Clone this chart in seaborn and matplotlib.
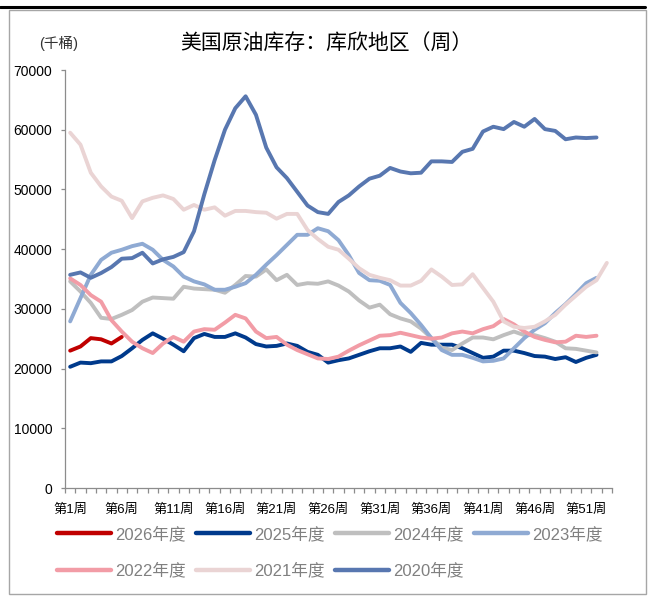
import numpy as np
import pandas as pd
import matplotlib
matplotlib.use("Agg")
import matplotlib.pyplot as plt
import seaborn as sns
from matplotlib.lines import Line2D
from matplotlib.patches import Rectangle

# ---------------- data (thousand barrels -> barrels*1000) ----------------
years = ["2026年度", "2025年度", "2024年度", "2023年度", "2022年度", "2021年度", "2020年度"]
colors = ["#C00000", "#003A8C", "#BFBFBF", "#8FAAD3", "#F29CA6", "#EAD4D4", "#5877B0"]

v2026 = [23000, 23700, 25100, 24900, 24200, 25300]
v2025 = [20300, 21000, 20900, 21200, 21200, 22100, 23400, 24800, 25900, 25000,
         24000, 22900, 25100, 25800, 25300, 25300, 25900, 25200, 24100, 23700,
         23800, 24200, 23800, 22800, 22300, 21000, 21400, 21700, 22300, 22900,
         23400, 23400, 23700, 22800, 24300, 24000, 24000, 24000, 23400, 22600,
         21800, 22000, 23000, 23000, 22600, 22100, 22000, 21600, 21900, 21100,
         21800, 22300]
v2024 = [34600, 32900, 31000, 28500, 28300, 29000, 29800, 31200, 31900, 31800,
         31700, 33700, 33400, 33300, 33200, 32700, 34000, 35500, 35400, 36600,
         34800, 35700, 34000, 34300, 34200, 34600, 33900, 32900, 31400, 30200,
         30700, 29100, 28400, 27900, 26700, 25100, 23500, 23100, 24200, 25200,
         25200, 24900, 25600, 26200, 25600, 25600, 25100, 24500, 23400, 23300,
         23000, 22700]
v2023 = [27900, 31800, 35700, 38200, 39400, 39900, 40500, 40900, 39900, 38200,
         37100, 35400, 34600, 34100, 33200, 33200, 33700, 34300, 35700, 37400,
         39000, 40700, 42400, 42400, 43500, 43000, 41500, 39000, 36000, 34800,
         34700, 34000, 31000, 29300, 27300, 25100, 23100, 22300, 22300, 21800,
         21200, 21300, 21700, 23400, 25100, 26500, 27600, 29300, 30800, 32500,
         34300, 35200]
v2022 = [35100, 34000, 32300, 31200, 28100, 26200, 24500, 23400, 22600, 24200,
         25300, 24500, 26200, 26600, 26500, 27700, 29000, 28400, 26200, 25100,
         25300, 24000, 23100, 22400, 21700, 21600, 22000, 23000, 23900, 24700,
         25500, 25600, 26000, 25600, 25200, 25000, 25200, 25900, 26200, 25900,
         26600, 27100, 28300, 27400, 26200, 25300, 24800, 24400, 24500, 25500,
         25300, 25500]
v2021 = [59500, 57500, 52800, 50500, 48800, 48100, 45200, 48000, 48600, 49000,
         48400, 46600, 47400, 46600, 47000, 45600, 46400, 46400, 46200, 46100,
         45100, 45900, 45900, 43200, 41700, 40400, 39900, 38400, 36800, 35700,
         35200, 34800, 33900, 33900, 34700, 36600, 35400, 34000, 34100, 35800,
         33500, 31200, 27900, 27000, 26800, 27000, 27900, 29000, 30700, 32200,
         33700, 34800, 37700]
v2020 = [35700, 36100, 35200, 36000, 37000, 38400, 38500, 39400, 37600, 38300,
         38700, 39500, 43000, 49200, 54900, 60000, 63600, 65600, 62500, 57000,
         53700, 51900, 49600, 47300, 46200, 45900, 47900, 49000, 50500, 51800,
         52300, 53600, 53000, 52700, 52800, 54700, 54700, 54600, 56300, 56800,
         59700, 60500, 60100, 61300, 60500, 61800, 60100, 59800, 58400, 58700,
         58600, 58700]

series = [v2026, v2025, v2024, v2023, v2022, v2021, v2020]
yticks = [0, 10000, 20000, 30000, 40000, 50000, 60000, 70000]
label_weeks = [1, 6, 11, 16, 21, 26, 31, 36, 41, 46, 51]
xtick_labels = [f"第{w}周" for w in label_weeks]
title = "美国原油库存：库欣地区（周）"
unit = "(千桶)"

rows = []
for name, vals in zip(years, series):
    for i, v in enumerate(vals):
        rows.append({"week": i + 1, "value": v, "year": name})
df = pd.DataFrame(rows)

# ---------------- style ----------------
sns.set_style("white")
plt.rcParams["font.family"] = ["Liberation Sans", "Noto Sans CJK SC", "DejaVu Sans"]
plt.rcParams["axes.unicode_minus"] = False

W, H = 651, 599
fig = plt.figure(figsize=(W / 100, H / 100), dpi=100)
fig.patch.set_facecolor("white")

x0, x1, y_top, y_bot = 65, 612, 70, 488
ax = fig.add_axes([x0 / W, 1 - y_bot / H, (x1 - x0) / W, (y_bot - y_top) / H])

sns.lineplot(data=df, x="week", y="value", hue="year", hue_order=years,
             palette=colors, linewidth=2.8, ax=ax, legend=False)
for ln in ax.lines:
    ln.set_solid_capstyle("round")
    ln.set_solid_joinstyle("round")

ax.set_xlim(0.5, 53.5)
ax.set_ylim(0, 70000)
ax.set_yticks(yticks)
ax.set_yticklabels([str(t) for t in yticks], fontsize=10, color="black")
ax.set_xticks(label_weeks)
ax.set_xticklabels(xtick_labels, fontsize=9.5, color="black")
ax.set_xticks(np.arange(0.5, 54.0, 1.0), minor=True)
ax.set_xlabel("")
ax.set_ylabel("")

spine_c = "#8C8C8C"
for s in ["top", "right"]:
    ax.spines[s].set_visible(False)
for s in ["left", "bottom"]:
    ax.spines[s].set_color(spine_c)
    ax.spines[s].set_linewidth(0.9)

ax.tick_params(axis="y", which="major", left=True, length=3, width=0.9,
               color=spine_c, direction="out", pad=6)
ax.tick_params(axis="x", which="major", bottom=True, length=0, pad=11)
ax.tick_params(axis="x", which="minor", bottom=True, length=3.5, width=0.9,
               color=spine_c, direction="out")
ax.grid(False)

# ---------------- title & unit ----------------
fig.text(326 / W, 1 - 43 / H, title, ha="center", va="center", fontsize=15,
         color="black", family=["Noto Sans CJK SC", "DejaVu Sans"])
fig.text(59 / W, 1 - 43 / H, unit, ha="center", va="center", fontsize=10.5,
         color="#333333")

# ---------------- legend ----------------
handles = ax.lines[:len(years)]
order = [0, 4, 1, 5, 2, 6, 3]
leg = fig.legend([handles[i] for i in order], [years[i] for i in order],
                 loc="upper left", bbox_to_anchor=(57 / W, 1 - 526 / H),
                 ncol=4, frameon=False, fontsize=12, borderpad=0,
                 borderaxespad=0, handlelength=3.25, handletextpad=0.25,
                 columnspacing=0.6, labelspacing=1.25, labelcolor="#808080")
for lh in leg.get_lines():
    lh.set_linewidth(3.2)

# ---------------- frame ----------------
fig.add_artist(Rectangle((9 / W, 1 - 594 / H), (646 - 9) / W, (594 - 10) / H,
                         transform=fig.transFigure, fill=False,
                         edgecolor="#A6A6A6", linewidth=1.0))
fig.add_artist(Line2D([0, 645 / W], [1 - 7 / H, 1 - 7 / H],
                      transform=fig.transFigure, color="black", linewidth=2.2))

fig.savefig("out.png", dpi=100)
